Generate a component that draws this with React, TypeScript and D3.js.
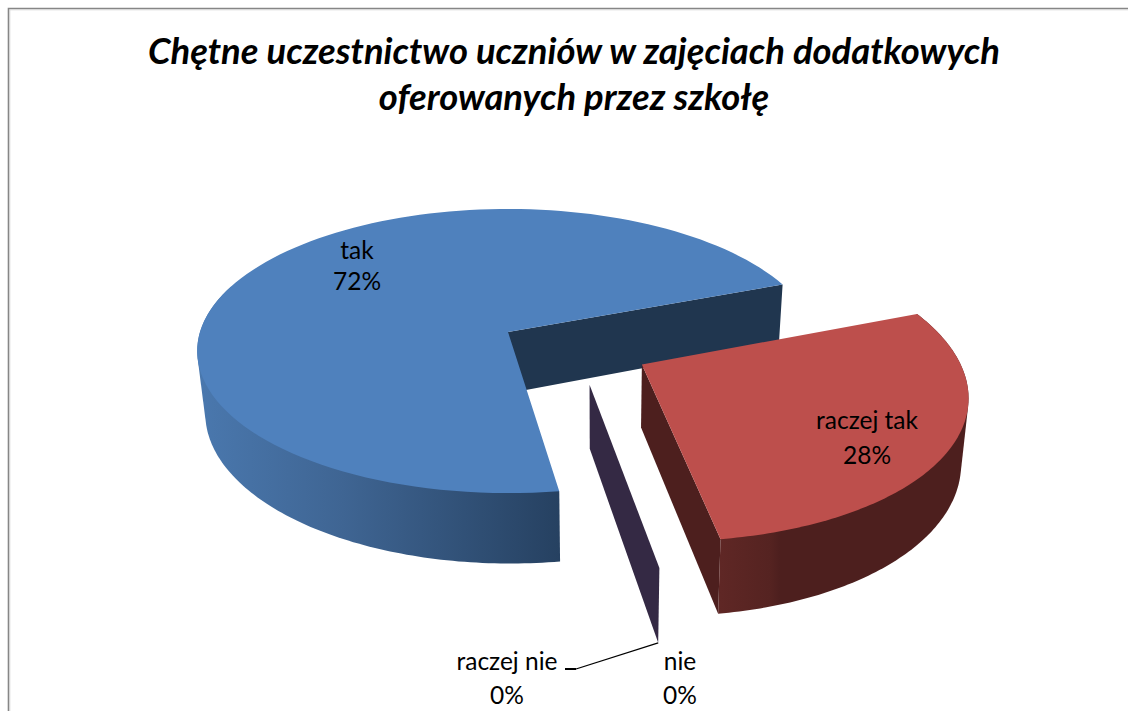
import React from "react";
import * as d3 from "d3";

const categories = ["tak", "raczej tak", "raczej nie", "nie"];
const seriesValues = [71.5, 28.5, 0, 0];
const percentLabels = ["72%", "28%", "0%", "0%"];
const titleLines = [
  "Chętne uczestnictwo uczniów w zajęciach dodatkowych",
  "oferowanych przez szkołę",
];

const START_DEG = 171.7;
const PIE = { cx: 508, cy: 332, a: 308, b: 139.5, t: 0.134, depth: 61, vanishX: 600, conv: 0.02 };

type W = { x: number; y: number };
const world = (theta: number, r: number, off: W): W => ({
  x: off.x + r * Math.sin(theta),
  y: off.y - r * Math.cos(theta),
});
const project = (w: W, z: number, t = PIE.t): [number, number] => {
  const s = 1 / (1 - w.y * t);
  const x = PIE.cx + PIE.a * w.x * s;
  const y = PIE.cy + PIE.b * w.y * s + z * PIE.depth * s;
  return [x + (PIE.vanishX - x) * PIE.conv * z, y];
};

const line = d3.line<[number, number]>();
const pieGen = d3
  .pie<number>()
  .sort(null)
  .startAngle((START_DEG * Math.PI) / 180)
  .endAngle((START_DEG * Math.PI) / 180 + 2 * Math.PI);
const arcs = pieGen(seriesValues);

const arcPts = (a0: number, a1: number, off: W, z: number, t = PIE.t) =>
  d3.range(0, 121).map((i) => project(world(a0 + ((a1 - a0) * i) / 120, 1, off), z, t));

const topPath = (a0: number, a1: number, off: W, t = PIE.t) =>
  line([project(off, 0, t), ...arcPts(a0, a1, off, 0, t)]) + "Z";
// the side wall is the outline swept between the upper and lower rim
const rimPath = (a0: number, a1: number, off: W, t = PIE.t) =>
  line(d3.polygonHull([...arcPts(a0, a1, off, 0, t), ...arcPts(a0, a1, off, 1, t)]) as [number, number][]) + "Z";
const cutPath = (a: number, off: W, r = 1, t = PIE.t) =>
  line([
    project(off, 0, t),
    project(world(a, r, off), 0, t),
    project(world(a, r, off), 1, t),
    project(off, 1, t),
  ]) + "Z";

const OFF_BLUE: W = { x: 0, y: 0 };
const OFF_RED: W = { x: 0.42, y: 0.225 };
const T_RED = 0.15;
const OFF_SLIVER: W = { x: 0.252, y: 0.36 };
const R_SLIVER = 1.03;

const BLUE = "#4f81bd";
const BLUE_CUT = "#20364f";
const RED = "#bd4f4c";
const RED_CUT = "#4d1f1e";
const SLIVER = "#342944";

const FONT = "Lato, 'Liberation Sans', sans-serif";

const blue = arcs[0];
const red = arcs[1];
const zero = arcs[2];
const deg = Math.PI / 180;

type Lab = { name: string; pct: string; x: number; y1: number; y2: number };
const labels: Lab[] = [
  { name: categories[0], pct: percentLabels[0], x: 357, y1: 259, y2: 290 },
  { name: categories[1], pct: percentLabels[1], x: 867, y1: 429, y2: 464 },
  { name: categories[2], pct: percentLabels[2], x: 507, y1: 670, y2: 704 },
  { name: categories[3], pct: percentLabels[3], x: 680, y1: 670, y2: 704 },
];

export default function App() {
  const sliverTip = project(world(zero.startAngle, R_SLIVER, OFF_SLIVER), 1);
  return (
    <svg
      width={1128}
      height={711}
      style={{ position: "absolute", left: 0, top: 0, background: "#fff" }}
    >
      <defs>
        <linearGradient id="blueRim" gradientUnits="userSpaceOnUse" x1={197} x2={560} y1={0} y2={0}>
          <stop offset="0" stopColor="#4a78ae" />
          <stop offset="0.4" stopColor="#3f6593" />
          <stop offset="1" stopColor="#264161" />
        </linearGradient>
        <linearGradient id="redRim" gradientUnits="userSpaceOnUse" x1={720} x2={970} y1={0} y2={0}>
          <stop offset="0" stopColor="#5f2725" />
          <stop offset="0.2" stopColor="#552321" />
          <stop offset="0.24" stopColor={RED_CUT} />
          <stop offset="1" stopColor={RED_CUT} />
        </linearGradient>
      </defs>

      <path d="M1128 8.5H8.5V711" fill="none" stroke="#868686" strokeWidth={1.6} />
      <path d="M1128 9.8H9.8V711" fill="none" stroke="#d0d0d0" strokeWidth={0.8} />

      {titleLines.map((t, i) => (
        <text
          key={t}
          x={574}
          y={64 + i * 46}
          textAnchor="middle"
          fontFamily={FONT}
          fontWeight={700}
          fontStyle="italic"
          fontSize={36.4}
          fill="#000"
        >
          {t}
        </text>
      ))}

      {/* blue slice */}
      <path d={cutPath(blue.endAngle, OFF_BLUE)} fill={BLUE_CUT} />
      <path d={rimPath(blue.startAngle, 290 * deg, OFF_BLUE)} fill="url(#blueRim)" />
      <path d={topPath(blue.startAngle, blue.endAngle, OFF_BLUE)} fill={BLUE} />

      {/* zero-valued slices */}
      <path d={cutPath(zero.startAngle, OFF_SLIVER, R_SLIVER)} fill={SLIVER} />

      {/* red slice */}
      <path d={cutPath(red.endAngle, OFF_RED, 1, T_RED)} fill={RED_CUT} />
      <path d={rimPath(red.startAngle, red.endAngle, OFF_RED, T_RED)} fill="url(#redRim)" />
      <path d={topPath(red.startAngle, red.endAngle, OFF_RED, T_RED)} fill={RED} />

      <path
        d={line([[576, 669], sliverTip]) as string}
        fill="none"
        stroke="#000"
        strokeWidth={1.3}
      />
      <path d={line([[565, 669], [576, 669]]) as string} fill="none" stroke="#000" strokeWidth={2} />

      {labels.map((l) => (
        <g key={l.name} fontFamily={FONT} fontSize={24.5} textAnchor="middle" fill="#000">
          <text x={l.x} y={l.y1}>{l.name}</text>
          <text x={l.x} y={l.y2}>{l.pct}</text>
        </g>
      ))}
    </svg>
  );
}
